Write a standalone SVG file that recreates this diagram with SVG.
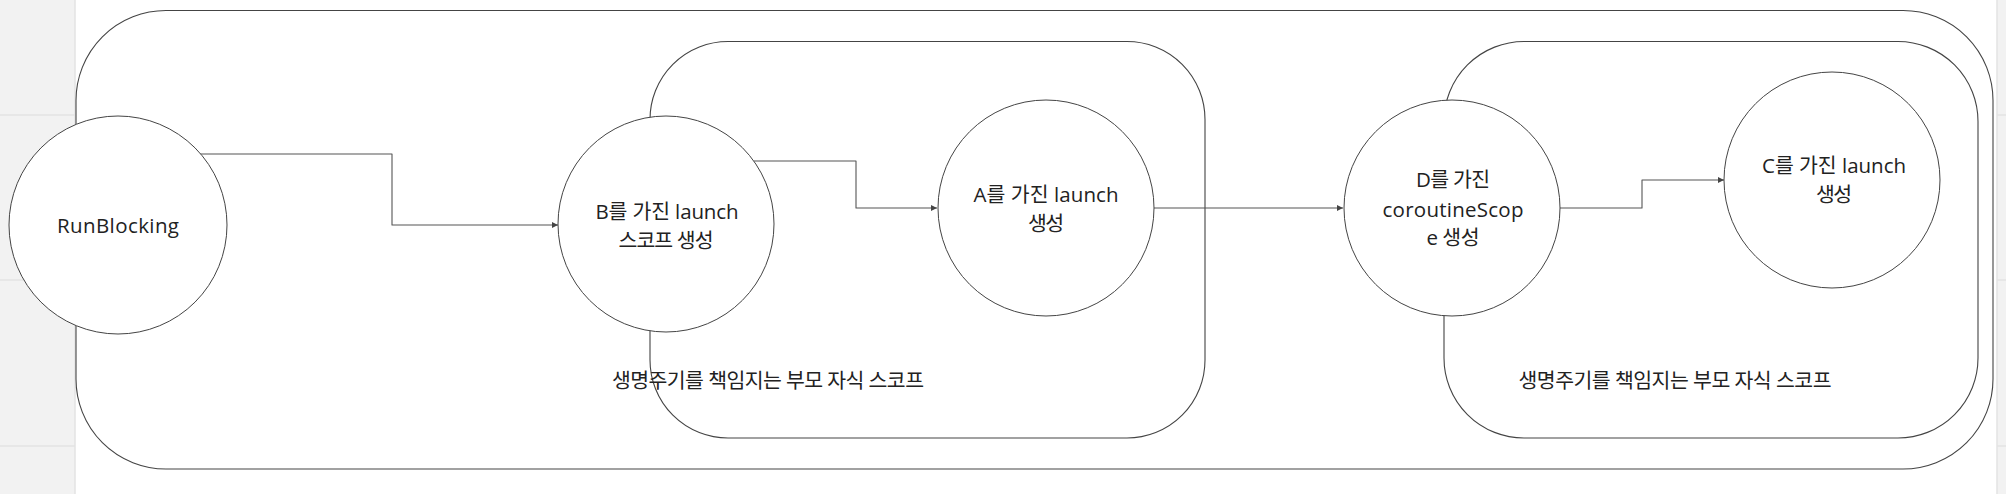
<svg xmlns="http://www.w3.org/2000/svg" width="2006" height="494" viewBox="0 0 2006 494">
  <style>
    .bg-strip { fill: #f2f2f2; }
    .grid { stroke: #e3e3e3; stroke-width: 1.5; fill: none; }
    .scope { fill: #ffffff; stroke: #444444; stroke-width: 1.1; }
    .node { fill: #ffffff; stroke: #444444; stroke-width: 1; }
    .label { font-family: "Open Sans", "Noto Sans CJK KR", sans-serif; font-size: 20.5px; fill: #222222; text-anchor: middle; }
    .edge { fill: none; stroke: #555555; stroke-width: 1.1; stroke-linejoin: round; }
  </style>
  <defs>
    <marker id="arrow" viewBox="0 0 10 10" refX="10" refY="5" markerWidth="6" markerHeight="6" markerUnits="userSpaceOnUse" orient="auto">
      <path d="M0,0 L10,5 L0,10 z" fill="#444444"/>
    </marker>
  </defs>

  <rect x="0" y="0" width="2006" height="494" fill="#ffffff"/>
  <g id="canvas-edges">
    <rect class="bg-strip" x="0" y="0" width="75" height="494"/>
    <rect class="bg-strip" x="1997" y="0" width="9" height="494"/>
    <line class="grid" x1="75" y1="0" x2="75" y2="494"/>
    <line class="grid" x1="1997" y1="0" x2="1997" y2="494"/>
    <line class="grid" x1="0" y1="115" x2="75" y2="115"/>
    <line class="grid" x1="0" y1="280" x2="75" y2="280"/>
    <line class="grid" x1="0" y1="446" x2="75" y2="446"/>
    <line class="grid" x1="1997" y1="115" x2="2006" y2="115"/>
    <line class="grid" x1="1997" y1="280" x2="2006" y2="280"/>
    <line class="grid" x1="1997" y1="446" x2="2006" y2="446"/>
  </g>

  <g id="outer-scope">
    <rect class="scope" x="76" y="10.5" width="1917" height="458.5" rx="90" ry="90"/>
  </g>

  <g id="scope-launch-b">
    <rect class="scope" x="650" y="41.5" width="555" height="396.5" rx="78" ry="78"/>
    <text class="label" x="768" y="388" textLength="312">생명주기를 책임지는 부모 자식 스코프</text>
  </g>

  <g id="scope-coroutine-d">
    <rect class="scope" x="1444" y="41.5" width="534" height="396.5" rx="80" ry="80"/>
    <text class="label" x="1675" y="388" textLength="313">생명주기를 책임지는 부모 자식 스코프</text>
  </g>

  <g id="connectors">
    <path class="edge" d="M200,154 H392 V225 H558" marker-end="url(#arrow)"/>
    <path class="edge" d="M754,161 H856 V208 H937" marker-end="url(#arrow)"/>
    <path class="edge" d="M1154,208 H1343" marker-end="url(#arrow)"/>
    <path class="edge" d="M1560,208 H1642 V180 H1724" marker-end="url(#arrow)"/>
  </g>

  <g id="node-runblocking">
    <circle class="node" cx="118" cy="225" r="109"/>
    <text class="label" x="118" y="233" textLength="122">RunBlocking</text>
  </g>

  <g id="node-launch-b">
    <circle class="node" cx="666" cy="224" r="108"/>
    <text class="label" x="667" y="219" textLength="143">B를 가진 launch</text>
    <text class="label" x="666" y="248" textLength="95">스코프 생성</text>
  </g>

  <g id="node-launch-a">
    <circle class="node" cx="1046" cy="208" r="108"/>
    <text class="label" x="1046" y="202" textLength="145">A를 가진 launch</text>
    <text class="label" x="1046" y="231" textLength="36">생성</text>
  </g>

  <g id="node-coroutinescope-d">
    <circle class="node" cx="1452" cy="208" r="108"/>
    <text class="label" x="1453" y="187" textLength="74">D를 가진</text>
    <text class="label" x="1453" y="217" textLength="141">coroutineScop</text>
    <text class="label" x="1453" y="245" textLength="53">e 생성</text>
  </g>

  <g id="node-launch-c">
    <circle class="node" cx="1832" cy="180" r="108"/>
    <text class="label" x="1834" y="173" textLength="144">C를 가진 launch</text>
    <text class="label" x="1834" y="202" textLength="36">생성</text>
  </g>
</svg>
